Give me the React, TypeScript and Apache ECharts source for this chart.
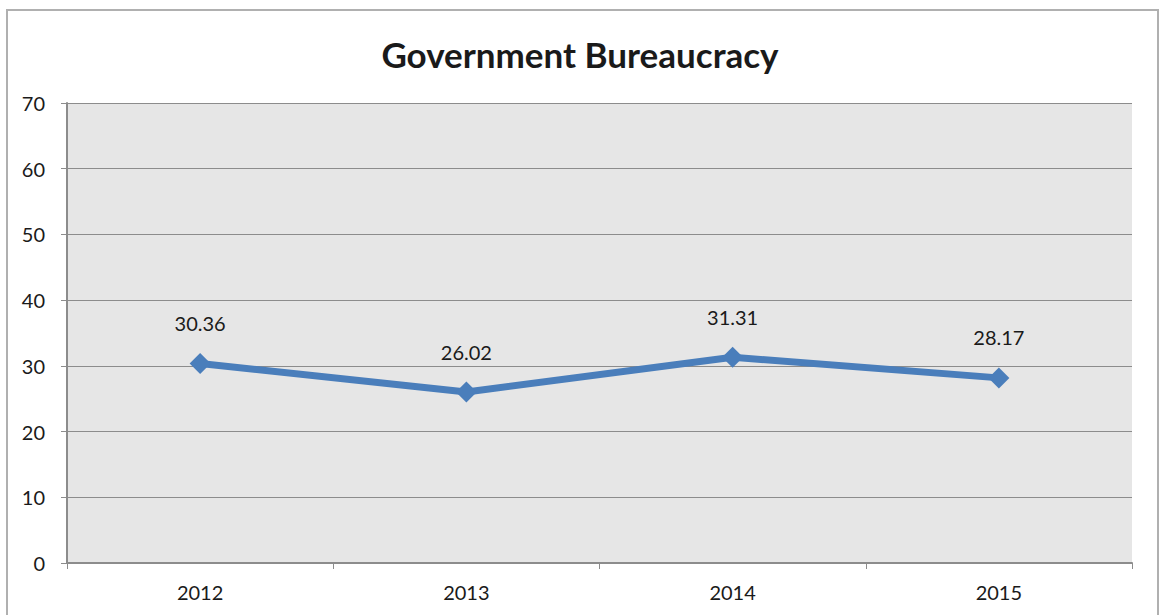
import React, { useEffect, useRef } from "react";
import * as echarts from "echarts";

const categories = ["2012", "2013", "2014", "2015"];
const values = [30.36, 26.02, 31.31, 28.17];
const yTicks = { min: 0, max: 70, interval: 10 };
const titleText = "Government Bureaucracy";

export default function App() {
  const ref = useRef<HTMLDivElement>(null);
  useEffect(() => {
    document.body.style.margin = "0";
    const chart = echarts.init(ref.current!, null, { renderer: "svg" });
    chart.setOption({
      animation: false,
      backgroundColor: "#ffffff",
      title: {
        text: titleText,
        left: "center",
        top: 31,
        textStyle: { fontFamily: "Lato", fontWeight: "bold", fontSize: 35, color: "#1a1a1a" },
      },
      graphic: [
        {
          type: "rect",
          shape: { x: 7, y: 10, width: 1151, height: 620 },
          style: { fill: "none", stroke: "#b0b0b0", lineWidth: 2 },
          silent: true,
        },
      ],
      grid: { left: 67, right: 28, top: 103, bottom: 52, show: true, backgroundColor: "#e6e6e6", borderWidth: 0 },
      xAxis: {
        type: "category",
        data: categories,
        boundaryGap: true,
        axisLine: { show: true, lineStyle: { color: "#8c8c8c", width: 2 } },
        axisTick: { show: true, alignWithLabel: false, length: 6, lineStyle: { color: "#8c8c8c", width: 1 } },
        axisLabel: { margin: 19, fontFamily: "Lato", fontSize: 20, color: "#1a1a1a" },
        splitLine: { show: false },
      },
      yAxis: {
        type: "value",
        min: yTicks.min,
        max: yTicks.max,
        interval: yTicks.interval,
        axisLine: { show: true, lineStyle: { color: "#8c8c8c", width: 2 } },
        axisTick: { show: true, length: 6, lineStyle: { color: "#8c8c8c", width: 1 } },
        axisLabel: { margin: 22, fontFamily: "Lato", fontSize: 20, color: "#1a1a1a" },
        splitLine: { show: true, lineStyle: { color: "#8c8c8c", width: 1 } },
      },
      series: [
        {
          type: "line",
          data: values,
          symbol: "diamond",
          symbolSize: 21,
          lineStyle: { color: "#4a7ebb", width: 7 },
          itemStyle: { color: "#4a7ebb" },
          label: {
            show: true,
            position: "top",
            distance: 20,
            fontFamily: "Lato",
            fontSize: 20,
            color: "#1a1a1a",
          },
        },
      ],
    });
    return () => chart.dispose();
  }, []);
  return <div ref={ref} style={{ width: 1160, height: 615 }} />;
}
